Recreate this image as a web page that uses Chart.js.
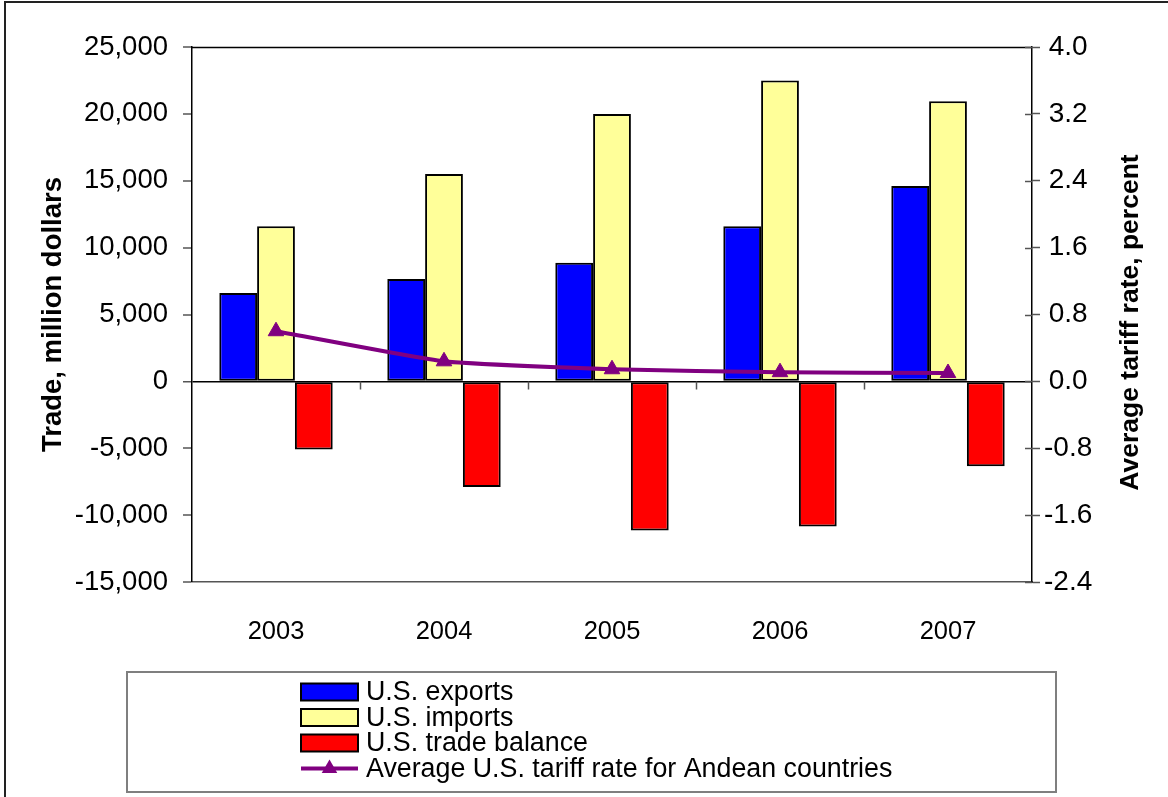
<!DOCTYPE html>
<html>
<head>
<meta charset="utf-8">
<title>U.S. trade with Andean countries, 2003-2007</title>
<script src="https://cdn.jsdelivr.net/npm/chart.js@4.4.1/dist/chart.umd.min.js"></script>
<style>
  html, body { margin: 0; padding: 0; background: #ffffff; }
  #wrap { position: relative; width: 1168px; height: 797px; }
</style>
</head>
<body>
<div id="wrap"><canvas id="chart"></canvas></div>
<script>
// Years on the category axis
const years = ['2003', '2004', '2005', '2006', '2007'];

// Trade values, million dollars
const usExports = [6600, 7650, 8870, 11600, 14600];
const usImports = [11600, 15500, 20000, 22500, 20950];
const usBalance = [-5100, -7900, -11150, -10850, -6350];

// Average U.S. tariff rate for Andean countries, percent
const tariffRate = [0.60, 0.24, 0.145, 0.11, 0.10];

// Axis tick values
const tradeTicks = [-15000, -10000, -5000, 0, 5000, 10000, 15000, 20000, 25000];
const rateTicks = [-2.4, -1.6, -0.8, 0.0, 0.8, 1.6, 2.4, 3.2, 4.0];

// Axis titles
const tradeTitle = 'Trade, million dollars';
const rateTitle = 'Average tariff rate, percent';

const FONT = '"Liberation Sans", Arial, Helvetica, sans-serif';

// White page background
const background = {
  id: 'background',
  beforeDraw(chart) {
    const ctx = chart.ctx;
    ctx.save();
    ctx.fillStyle = '#ffffff';
    ctx.fillRect(0, 0, chart.width, chart.height);
    ctx.restore();
  }
};

// Plot frame top edge, inner right-axis ticks, category ticks on the zero line,
// right axis title (reading upwards), outer frame and the boxed legend
const decorations = {
  id: 'decorations',
  afterDatasetsDraw(chart) {
    const ctx = chart.ctx;
    const area = chart.chartArea;
    const y = chart.scales.y;
    const y2 = chart.scales.y2;
    ctx.save();

    // top edge of the plot frame
    ctx.strokeStyle = '#000000';
    ctx.lineWidth = 1.5;
    ctx.beginPath();
    ctx.moveTo(area.left, area.top + 0.5);
    ctx.lineTo(area.right, area.top + 0.5);
    ctx.stroke();

    // right axis ticks reach a little inside the plot
    ctx.strokeStyle = '#555555';
    ctx.lineWidth = 1.5;
    rateTicks.forEach(v => {
      const py = Math.round(y2.getPixelForValue(v)) + 0.5;
      ctx.beginPath();
      ctx.moveTo(area.right - 7, py);
      ctx.lineTo(area.right, py);
      ctx.stroke();
    });

    // category separators hanging from the zero line
    const zeroY = Math.round(y.getPixelForValue(0)) + 0.5;
    const step = (area.right - area.left) / years.length;
    for (let i = 1; i < years.length; i++) {
      const px = Math.round(area.left + step * i) + 0.5;
      ctx.beginPath();
      ctx.moveTo(px, zeroY);
      ctx.lineTo(px, zeroY + 8);
      ctx.stroke();
    }
    ctx.restore();
  },
  afterDraw(chart) {
    const ctx = chart.ctx;
    const area = chart.chartArea;
    ctx.save();

    // right axis title, rotated to read bottom-to-top
    ctx.save();
    ctx.translate(1131, (area.top + area.bottom) / 2 + 8);
    ctx.rotate(-Math.PI / 2);
    ctx.font = 'bold 26.5px ' + FONT;
    ctx.fillStyle = '#000000';
    ctx.textAlign = 'center';
    ctx.textBaseline = 'middle';
    ctx.fillText(rateTitle, 0, 0);
    ctx.restore();

    // outer frame (top and left edges)
    ctx.strokeStyle = '#222222';
    ctx.lineWidth = 2;
    ctx.beginPath();
    ctx.moveTo(5, chart.height);
    ctx.lineTo(5, 2);
    ctx.lineTo(chart.width, 2);
    ctx.stroke();

    // legend box
    const box = { left: 127, top: 672, right: 1056, bottom: 792 };
    ctx.strokeStyle = '#7f7f7f';
    ctx.lineWidth = 2;
    ctx.strokeRect(box.left, box.top, box.right - box.left, box.bottom - box.top);

    const sw = { left: 301, width: 57, height: 17 };
    const textX = 366;
    const rowY = [692, 717.5, 743, 768.5];
    ctx.font = '26.8px ' + FONT;
    ctx.textBaseline = 'middle';
    ctx.textAlign = 'left';
    chart.data.datasets.forEach((ds, i) => {
      const cy = rowY[i];
      if (ds.type === 'line') {
        ctx.strokeStyle = ds.borderColor;
        ctx.lineWidth = 4;
        ctx.beginPath();
        ctx.moveTo(sw.left, cy);
        ctx.lineTo(sw.left + sw.width, cy);
        ctx.stroke();
        const r = ds.pointRadius;
        const cx = sw.left + sw.width / 2;
        ctx.fillStyle = ds.pointBackgroundColor;
        ctx.beginPath();
        ctx.moveTo(cx, cy - r);
        ctx.lineTo(cx + r * 0.866, cy + r * 0.5);
        ctx.lineTo(cx - r * 0.866, cy + r * 0.5);
        ctx.closePath();
        ctx.fill();
      } else {
        ctx.fillStyle = ds.backgroundColor;
        ctx.fillRect(sw.left, cy - sw.height / 2, sw.width, sw.height);
        ctx.strokeStyle = '#000000';
        ctx.lineWidth = 2;
        ctx.strokeRect(sw.left, cy - sw.height / 2, sw.width, sw.height);
      }
      ctx.fillStyle = '#000000';
      ctx.fillText(ds.label, textX, cy + 1);
    });
    ctx.restore();
  }
};

const barStyle = {
  borderColor: '#000000',
  borderWidth: 2,
  borderSkipped: false,
  categoryPercentage: 0.675,
  barPercentage: 1.0,
  yAxisID: 'y'
};

new Chart(document.getElementById('chart'), {
  type: 'bar',
  data: {
    labels: years,
    datasets: [
      Object.assign({ label: 'U.S. exports', data: usExports, backgroundColor: '#0000ff', order: 2 }, barStyle),
      Object.assign({ label: 'U.S. imports', data: usImports, backgroundColor: '#ffff99', order: 2 }, barStyle),
      Object.assign({ label: 'U.S. trade balance', data: usBalance, backgroundColor: '#ff0000', order: 2 }, barStyle),
      {
        type: 'line',
        label: 'Average U.S. tariff rate for Andean countries',
        data: tariffRate,
        yAxisID: 'y2',
        borderColor: '#800080',
        backgroundColor: '#800080',
        pointBackgroundColor: '#800080',
        pointBorderColor: '#800080',
        borderWidth: 4,
        pointStyle: 'triangle',
        pointRadius: 9,
        pointBorderWidth: 1,
        tension: 0.15,
        fill: false,
        order: 1
      }
    ]
  },
  options: {
    responsive: true,
    maintainAspectRatio: false,
    animation: false,
    layout: { padding: { top: 47, left: 0, right: 0, bottom: 0 } },
    plugins: {
      legend: { display: false },
      tooltip: { enabled: false }
    },
    scales: {
      x: {
        offset: true,
        grid: { display: false, drawTicks: false },
        border: { display: true, color: '#555555', width: 1.5 },
        ticks: { color: '#000000', font: { family: FONT, size: 25.5 }, padding: 35, maxRotation: 0 },
        afterFit(scale) { scale.height = 797 - 582; }
      },
      y: {
        position: 'left',
        min: -15000,
        max: 25000,
        afterBuildTicks(scale) { scale.ticks = tradeTicks.map(v => ({ value: v })); },
        afterFit(scale) { scale.width = 192; },
        grid: {
          color: c => (c.tick && c.tick.value === 0 ? '#000000' : 'rgba(0,0,0,0)'),
          lineWidth: c => (c.tick && c.tick.value === 0 ? 1.5 : 0),
          tickColor: '#555555',
          tickWidth: 1.5,
          tickLength: 9,
          drawOnChartArea: true
        },
        border: { display: true, color: '#000000', width: 1.5 },
        ticks: {
          color: '#000000',
          font: { family: FONT, size: 27.5 },
          padding: 15,
          callback: v => Number(v).toLocaleString('en-US')
        },
        title: {
          display: true,
          text: tradeTitle,
          color: '#000000',
          font: { family: FONT, size: 27.5, weight: 'bold' },
          padding: { top: 37, bottom: 0 }
        }
      },
      y2: {
        position: 'right',
        min: -2.4,
        max: 4.0,
        afterBuildTicks(scale) { scale.ticks = rateTicks.map(v => ({ value: v })); },
        afterFit(scale) { scale.width = 1168 - 1032; },
        grid: {
          drawOnChartArea: false,
          tickColor: '#555555',
          tickWidth: 1.5,
          tickLength: 8
        },
        border: { display: true, color: '#000000', width: 1.5 },
        ticks: {
          color: '#000000',
          font: { family: FONT, size: 28 },
          padding: 4,
          crossAlign: 'center',
          callback: v => (Math.abs(v) < 1e-9 ? 0 : Number(v)).toFixed(1)
        },
        title: { display: false }
      }
    }
  },
  plugins: [background, decorations]
});
</script>
</body>
</html>
